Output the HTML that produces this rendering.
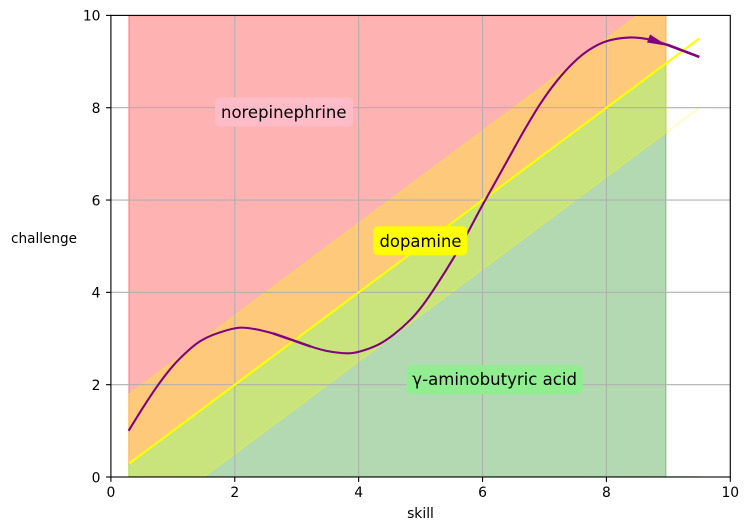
<!DOCTYPE html>
<html>
<head>
<meta charset="utf-8">
<style>
html,body{margin:0;padding:0;background:#fff;}
svg{display:block;font-family:"DejaVu Sans","Liberation Sans",sans-serif;}
</style>
</head>
<body>
<svg id="chart" xmlns="http://www.w3.org/2000/svg" width="749" height="530" viewBox="0 0 749 530">
<defs><clipPath id="plot-clip"><rect x="110.9" y="15.4" width="619.4" height="461.6"/></clipPath></defs>
<rect id="plot-bg" x="110.9" y="15.4" width="619.4" height="461.6" fill="#fff"/>
<g id="fills" clip-path="url(#plot-clip)"></g>
<g id="grid" clip-path="url(#plot-clip)"></g>
<g id="lines" clip-path="url(#plot-clip)"></g>
<g id="ticks"></g>
<rect x="110.9" y="15.4" width="619.4" height="461.6" fill="none" stroke="#000" stroke-width="1.1"/>
<g>
<rect x="215" y="97.5" width="138" height="29" rx="5" fill="#ffbcc8"/>
<text x="221" y="118.2" textLength="125.5" lengthAdjust="spacingAndGlyphs" font-size="16.67" fill="#000">norepinephrine</text>
</g>
<g>
<rect x="373.3" y="226.3" width="94" height="29" rx="5" fill="#ffff00"/>
<text x="379.5" y="247.2" textLength="82" lengthAdjust="spacingAndGlyphs" font-size="16.67" fill="#000">dopamine</text>
</g>
<g>
<rect x="406.7" y="365.2" width="176" height="29" rx="5" fill="#90ee90"/>
<text x="412.3" y="385.2" textLength="164.7" lengthAdjust="spacingAndGlyphs" font-size="16.67" fill="#000">γ-aminobutyric acid</text>
</g>
<text x="420.5" y="518" text-anchor="middle" font-size="13.89" fill="#000">skill</text>
<text x="11" y="243" textLength="66" lengthAdjust="spacingAndGlyphs" font-size="13.89" fill="#000">challenge</text>
</svg>
<script>
const xTicks = [0, 2, 4, 6, 8, 10];
const yTicks = [0, 2, 4, 6, 8, 10];
const fillX = [0.29, 8.96];
const redLower = [0.29, 8.96];
const redUpper = [10, 10];
const yellowLower = [-1.21, 7.46];
const yellowUpper = [1.79, 10.46];
const greenLower = [0, 0];
const greenUpper = [0.29, 8.96];
const diagonalX = [0.29, 9.5];
const diagonalY = [0.29, 9.5];
const paleYellowX = [8.96, 9.5];
const paleYellowY = [7.46, 8];
const paleGreenX = [8.96, 9.5];
const paleGreenY = [0, 0];
const curveX = [0.285,0.526,0.765,1.01,1.25,1.44,1.65,2.0,2.25,2.62,2.92,3.22,3.49,3.81,4.02,4.32,4.56,4.83,5.04,5.26,5.53,5.74,5.93,6.07,6.39,6.66,6.93,7.2,7.47,7.73,8.0,8.35,8.65,8.97,9.5];
const curveY = [1.0,1.52,2.0,2.42,2.74,2.94,3.08,3.22,3.22,3.11,2.97,2.83,2.73,2.68,2.72,2.87,3.08,3.40,3.73,4.16,4.74,5.24,5.72,6.06,6.83,7.48,8.08,8.58,8.98,9.26,9.44,9.52,9.49,9.37,9.1];
const thickMidX = [2.62, 2.92, 3.22];
const thickMidY = [3.11, 2.97, 2.83];
const thickEndX = [8.97, 9.5];
const thickEndY = [9.37, 9.1];
const arrowBase = [8.68, 9.5];
const arrowTip = [8.99, 9.34];

const SVGNS = 'http://www.w3.org/2000/svg';
function sx(v){ return 110.9 + v * 61.94; }
function sy(v){ return 477 - v * 46.16; }
function mk(tag, parent, attrs){
  const el = document.createElementNS(SVGNS, tag);
  for (const k in attrs) el.setAttribute(k, attrs[k]);
  document.getElementById(parent).appendChild(el);
  return el;
}
function band(xs, lo, up){
  const pts = [];
  for (let i = 0; i < xs.length; i++) pts.push(sx(xs[i]) + ',' + sy(up[i]));
  for (let i = xs.length - 1; i >= 0; i--) pts.push(sx(xs[i]) + ',' + sy(lo[i]));
  return pts.join(' ');
}
function linePts(xs, ys){
  return xs.map(function(x, i){ return sx(x) + ',' + sy(ys[i]); }).join(' ');
}
function smoothPath(xs, ys){
  const p = xs.map(function(x, i){ return [sx(x), sy(ys[i])]; });
  let d = 'M' + p[0][0] + ' ' + p[0][1];
  for (let i = 0; i < p.length - 1; i++) {
    const p0 = p[Math.max(i - 1, 0)], p1 = p[i], p2 = p[i + 1], p3 = p[Math.min(i + 2, p.length - 1)];
    d += ' C' + (p1[0] + (p2[0] - p0[0]) / 6) + ' ' + (p1[1] + (p2[1] - p0[1]) / 6) + ' ' +
      (p2[0] - (p3[0] - p1[0]) / 6) + ' ' + (p2[1] - (p3[1] - p1[1]) / 6) + ' ' + p2[0] + ' ' + p2[1];
  }
  return d;
}

const red = mk('polygon', 'fills', {points: band(fillX, redLower, redUpper), fill: '#ff0000', 'fill-opacity': 0.3, stroke: '#ff0000', 'stroke-opacity': 0.3, 'stroke-width': 1.4});


const green = mk('polygon', 'fills', {points: band(fillX, greenLower, greenUpper), fill: '#008000', 'fill-opacity': 0.3, stroke: '#008000', 'stroke-opacity': 0.3, 'stroke-width': 1.4});


const yellow = mk('polygon', 'fills', {points: band(fillX, yellowLower, yellowUpper), fill: '#ffff00', 'fill-opacity': 0.3, stroke: '#ffff00', 'stroke-opacity': 0.3, 'stroke-width': 1.4});


const paleGreen = mk('polyline', 'fills', {points: linePts(paleGreenX, paleGreenY), fill: 'none', stroke: '#008000', 'stroke-opacity': 0.3, 'stroke-width': 1.4});


const paleYellow = mk('polyline', 'fills', {points: linePts(paleYellowX, paleYellowY), fill: 'none', stroke: '#ffff00', 'stroke-opacity': 0.3, 'stroke-width': 1.4});



xTicks.forEach(function(t){
  const g = mk('line', 'grid', {x1: sx(t), x2: sx(t), y1: sy(0), y2: sy(10), stroke: '#b0b0b0', 'stroke-width': 1.1});
  
  
  const m = mk('line', 'ticks', {x1: sx(t), x2: sx(t), y1: sy(0), y2: sy(0) + 4.9, stroke: '#000', 'stroke-width': 1.1});
  
  
  const l = mk('text', 'ticks', {x: sx(t), y: 497, 'text-anchor': 'middle', 'font-size': 13.89, fill: '#000'});
  
  
  l.textContent = t;
});
yTicks.forEach(function(t){
  const g = mk('line', 'grid', {x1: sx(0), x2: sx(10), y1: sy(t), y2: sy(t), stroke: '#b0b0b0', 'stroke-width': 1.1});
  
  
  const m = mk('line', 'ticks', {x1: sx(0) - 4.9, x2: sx(0), y1: sy(t), y2: sy(t), stroke: '#000', 'stroke-width': 1.1});
  
  
  const l = mk('text', 'ticks', {x: 100.5, y: sy(t) + 5.3, 'text-anchor': 'end', 'font-size': 13.89, fill: '#000'});
  
  
  l.textContent = t;
});

const diag = mk('polyline', 'lines', {points: linePts(diagonalX, diagonalY), fill: 'none', stroke: '#ffff00', 'stroke-width': 2.1});


const curve = mk('path', 'lines', {d: smoothPath(curveX, curveY), fill: 'none', stroke: '#800080', 'stroke-width': 2.08, 'stroke-linejoin': 'round'});


const thickMid = mk('path', 'lines', {d: smoothPath(thickMidX, thickMidY), fill: 'none', stroke: '#800080', 'stroke-width': 2.4});


const thickEnd = mk('polyline', 'lines', {points: linePts(thickEndX, thickEndY), fill: 'none', stroke: '#800080', 'stroke-width': 2.6});



const ax = sx(arrowBase[0]), ay = sy(arrowBase[1]), bx = sx(arrowTip[0]), by = sy(arrowTip[1]);
const dx = bx - ax, dy = by - ay, d = Math.sqrt(dx * dx + dy * dy);
const nx = -dy / d, ny = dx / d;
const arrow = mk('polygon', 'lines', {points: bx + ',' + by + ' ' + (ax + nx * 4.3) + ',' + (ay + ny * 4.3) + ' ' + (ax - nx * 4.3) + ',' + (ay - ny * 4.3), fill: '#800080'});


</script>
</body>
</html>
